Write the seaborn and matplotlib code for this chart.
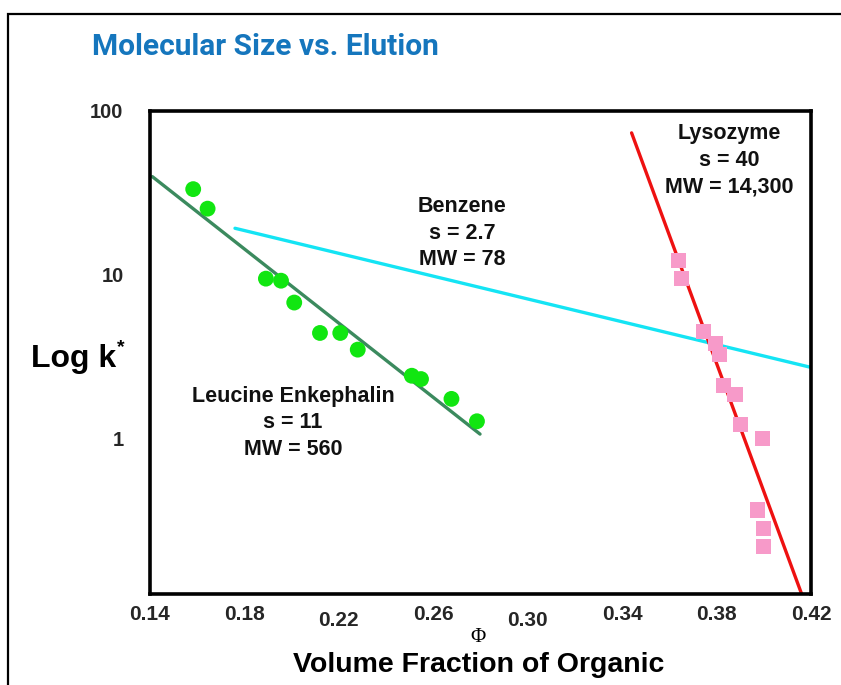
import numpy as np
import pandas as pd
import matplotlib
matplotlib.use("Agg")
import matplotlib.pyplot as plt
import seaborn as sns
from matplotlib.transforms import ScaledTranslation
from matplotlib.patches import Rectangle
from matplotlib.ticker import FixedLocator, NullFormatter, NullLocator

# ---------------- data ----------------
leu_phi = [0.1583, 0.1644, 0.1891, 0.1955, 0.2011, 0.2120, 0.2206, 0.2280, 0.2509, 0.2548, 0.2677, 0.2785]
leu_k = [33.3, 25.3, 9.45, 9.18, 6.75, 4.40, 4.40, 3.48, 2.41, 2.30, 1.74, 1.27]

lys_phi = [0.3638, 0.3653, 0.3743, 0.3797, 0.3811, 0.3831, 0.3878, 0.3903, 0.3996, 0.3974, 0.3999, 0.4000]
lys_k = [12.2, 9.5, 4.47, 3.78, 3.26, 2.09, 1.85, 1.21, 1.00, 0.364, 0.281, 0.219]

leu_fit_phi = [0.141, 0.2798]
leu_fit_k = [39.7, 1.06]
benz_fit_phi = [0.176, 0.42]
benz_fit_k = [19.2, 2.71]
lys_fit_phi = [0.344, 0.416]
lys_fit_k = [73.5, 0.112]

x_major = [0.14, 0.18, 0.22, 0.26, 0.30, 0.34, 0.38, 0.42]
x_major_labels = ["0.14", "0.18", "0.22", "0.26", "0.30", "0.34", "0.38", "0.42"]
x_minor = [0.16, 0.20, 0.24, 0.28, 0.32, 0.36, 0.40]
y_ticks = [1, 10, 100]
y_tick_labels = ["1", "10", "100"]

title = "Molecular Size vs. Elution"
ylabel = "Log k"
xlabel_sym = "\u03a6"
xlabel = "Volume Fraction of Organic"
ann_benz = "Benzene\ns = 2.7\nMW = 78"
ann_lys = "Lysozyme\ns = 40\nMW = 14,300"
ann_leu = "Leucine Enkephalin\ns = 11\nMW = 560"

# ---------------- style ----------------
sns.set_style("white")
plt.rcParams["font.family"] = ["Liberation Sans", "DejaVu Sans"]

W, H = 841, 685
fig = plt.figure(figsize=(W / 100, H / 100), dpi=100)
ax = fig.add_axes([150 / W, 1 - 594 / H, (811 - 150) / W, (594 - 111) / H])

pts_leu = pd.DataFrame({"phi": leu_phi, "k": leu_k})
pts_lys = pd.DataFrame({"phi": lys_phi, "k": lys_k})

sns.lineplot(x=leu_fit_phi, y=leu_fit_k, ax=ax, color="#3b8a5e", lw=2.4, zorder=2)
sns.lineplot(x=benz_fit_phi, y=benz_fit_k, ax=ax, color="#14e4f4", lw=2.4, zorder=2)
sns.lineplot(x=lys_fit_phi, y=lys_fit_k, ax=ax, color="#ee1111", lw=2.4, zorder=2)

sns.scatterplot(data=pts_leu, x="phi", y="k", ax=ax, color="#11e611", marker="o",
                s=130, edgecolor="none", zorder=3)
sns.scatterplot(data=pts_lys, x="phi", y="k", ax=ax, color="#f79ac9", marker="s",
                s=120, edgecolor="none", zorder=3)

ax.set_yscale("log")
ax.set_xlim(0.14, 0.42)
ax.set_ylim(0.1117, 100)

ax.set_xticks(x_major)
ax.set_xticklabels(x_major_labels)
ax.xaxis.set_minor_locator(FixedLocator(x_minor))
ax.xaxis.set_minor_formatter(NullFormatter())
ax.set_yticks(y_ticks)
ax.set_yticklabels(y_tick_labels)
ax.yaxis.set_minor_locator(NullLocator())

ax.tick_params(axis="x", which="both", direction="in", length=9, width=2.2,
               color="black", pad=8, labelsize=15)
ax.tick_params(axis="y", which="major", direction="in", length=12, width=2.6,
               color="black", pad=19, labelsize=14.5)
for lbl in ax.get_xticklabels() + ax.get_yticklabels():
    lbl.set_fontweight("bold")
for lbl in ax.get_xticklabels():
    if lbl.get_text() in ("0.22", "0.30"):
        lbl.set_transform(lbl.get_transform() + ScaledTranslation(0, -6 / 100, fig.dpi_scale_trans))

for sp in ax.spines.values():
    sp.set_visible(True)
    sp.set_color("black")
    sp.set_linewidth(2.6)
ax.set_xlabel("")
ax.set_ylabel("")
ax.grid(False)

# annotations
ann_kw = dict(ha="center", va="center", fontsize=15.5, fontweight="bold",
              linespacing=1.35, multialignment="center", color="#111111")
ax.text(0.2721, 17.9, ann_benz, **ann_kw)
ax.text(0.3852, 49.8, ann_lys, **ann_kw)
ax.text(0.2006, 1.244, ann_leu, **ann_kw)

# figure texts
fig.text(92 / W, 1 - 47 / H, title, ha="left", va="center", fontsize=21.5,
         fontweight="bold", color="#1576bd",
         family=["Roboto", "Liberation Sans"])
fig.text(31 / W, 1 - 367 / H, ylabel, ha="left", va="baseline", fontsize=23,
         fontweight="bold", color="black")
fig.text(121 / W, 1 - 348 / H, "*", ha="center", va="center", fontsize=14,
         fontweight="bold", color="black")
fig.text(478 / W, 1 - 637 / H, xlabel_sym, ha="center", va="center", fontsize=15,
         family=["Liberation Serif", "DejaVu Serif"], color="black")
fig.text(479 / W, 1 - 665 / H, xlabel, ha="center", va="center", fontsize=20.5,
         fontweight="bold", color="black")

# outer frame
fig.patches.append(Rectangle((8 / W, -0.05), 1.2, 1 - 14 / H + 0.05, transform=fig.transFigure,
                             fill=False, edgecolor="black", lw=1.6, zorder=0))

fig.savefig("out.png", dpi=100)
